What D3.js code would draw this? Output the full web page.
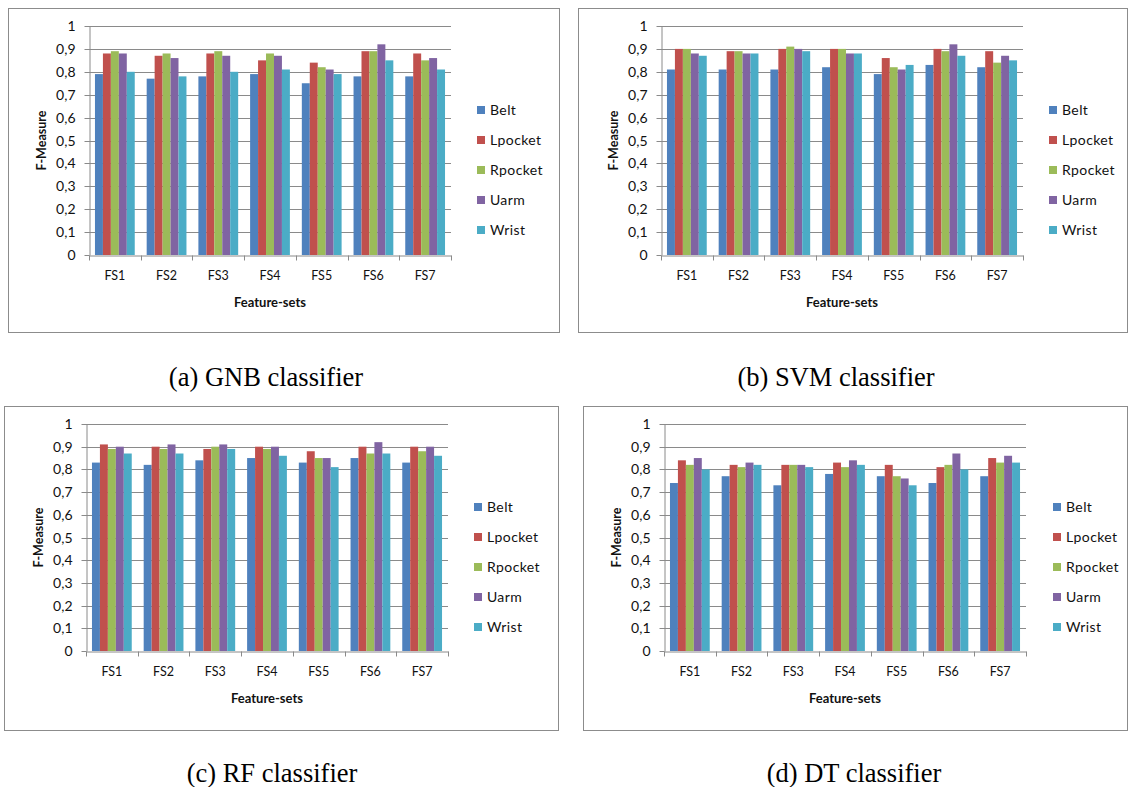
<!DOCTYPE html>
<html>
<head>
<meta charset="utf-8">
<script src="https://cdn.jsdelivr.net/npm/d3@7"></script>
<style>
  html, body { margin: 0; padding: 0; background: #fff; }
  svg { display: block; }
</style>
</head>
<body>
<svg id="chart" width="1133" height="787"></svg>
<script>
// ---------------- DATA ----------------
const categories = ["FS1", "FS2", "FS3", "FS4", "FS5", "FS6", "FS7"];
const seriesNames = ["Belt", "Lpocket", "Rpocket", "Uarm", "Wrist"];
const yTickValues = [0, 0.1, 0.2, 0.3, 0.4, 0.5, 0.6, 0.7, 0.8, 0.9, 1];
const yTickLabels = ["0", "0,1", "0,2", "0,3", "0,4", "0,5", "0,6", "0,7", "0,8", "0,9", "1"];

// rows = series (Belt, Lpocket, Rpocket, Uarm, Wrist); columns = FS1..FS7
const gnbValues = [
  [0.79, 0.77, 0.78, 0.79, 0.75, 0.78, 0.78],
  [0.88, 0.87, 0.88, 0.85, 0.84, 0.89, 0.88],
  [0.89, 0.88, 0.89, 0.88, 0.82, 0.89, 0.85],
  [0.88, 0.86, 0.87, 0.87, 0.81, 0.92, 0.86],
  [0.80, 0.78, 0.80, 0.81, 0.79, 0.85, 0.81]
];
const svmValues = [
  [0.81, 0.81, 0.81, 0.82, 0.79, 0.83, 0.82],
  [0.90, 0.89, 0.90, 0.90, 0.86, 0.90, 0.89],
  [0.90, 0.89, 0.91, 0.90, 0.82, 0.89, 0.84],
  [0.88, 0.88, 0.90, 0.88, 0.81, 0.92, 0.87],
  [0.87, 0.88, 0.89, 0.88, 0.83, 0.87, 0.85]
];
const rfValues = [
  [0.83, 0.82, 0.84, 0.85, 0.83, 0.85, 0.83],
  [0.91, 0.90, 0.89, 0.90, 0.88, 0.90, 0.90],
  [0.89, 0.89, 0.90, 0.89, 0.85, 0.87, 0.88],
  [0.90, 0.91, 0.91, 0.90, 0.85, 0.92, 0.90],
  [0.87, 0.87, 0.89, 0.86, 0.81, 0.87, 0.86]
];
const dtValues = [
  [0.74, 0.77, 0.73, 0.78, 0.77, 0.74, 0.77],
  [0.84, 0.82, 0.82, 0.83, 0.82, 0.81, 0.85],
  [0.82, 0.81, 0.82, 0.81, 0.77, 0.82, 0.83],
  [0.85, 0.83, 0.82, 0.84, 0.76, 0.87, 0.86],
  [0.80, 0.82, 0.81, 0.82, 0.73, 0.80, 0.83]
];
const captions = ["(a) GNB classifier", "(b) SVM classifier", "(c) RF classifier", "(d) DT classifier"];
const yAxisTitle = "F-Measure";
const xAxisTitle = "Feature-sets";

// ---------------- STYLE / LAYOUT ----------------
const seriesColors = ["#4F81BD", "#C0504D", "#9BBB59", "#8064A2", "#4BACC6"];
const panels = [
  { values: gnbValues, frame: [8, 8, 559, 332],    plot: [89, 451, 255, 26],   legend: [477, 110], capX: 266, capY: 386 },
  { values: svmValues, frame: [578, 8, 1127, 332], plot: [661, 1023, 255, 26], legend: [1049, 110], capX: 836, capY: 386 },
  { values: rfValues,  frame: [4, 406, 558, 730],  plot: [86, 448, 651, 424],  legend: [474, 507], capX: 272, capY: 782 },
  { values: dtValues,  frame: [583, 406, 1127, 730], plot: [664, 1026, 651, 424], legend: [1053, 507], capX: 854, capY: 782 }
];

const svg = d3.select("#chart");
svg.append("rect").attr("width", 1133).attr("height", 787).attr("fill", "#fff");

const labelFont = "Lato, 'Open Sans', 'DejaVu Sans', sans-serif";
const gridColor = "#8a8a8a";

panels.forEach((p, pi) => {
  const g = svg.append("g");
  const [fx0, fy0, fx1, fy1] = p.frame;
  const [x0, x1, y0, y1] = p.plot;

  // frame
  g.append("rect")
    .attr("x", fx0 + 0.5).attr("y", fy0 + 0.5)
    .attr("width", fx1 - fx0).attr("height", fy1 - fy0)
    .attr("fill", "#fff").attr("stroke", "#8c8c8c").attr("stroke-width", 1);

  const x = d3.scaleBand().domain(categories).range([x0, x1])
    .paddingInner(1.5 / 6.5).paddingOuter(0.75 / 6.5);
  const xs = d3.scaleBand().domain(seriesNames).range([0, x.bandwidth()]);
  const y = d3.scaleLinear().domain([0, 1]).range([y0, y1]);

  // gridlines
  g.append("g").selectAll("line")
    .data(yTickValues.filter(v => v > 0))
    .join("line")
    .attr("x1", x0).attr("x2", x1)
    .attr("y1", d => Math.round(y(d)) + 0.5).attr("y2", d => Math.round(y(d)) + 0.5)
    .attr("stroke", gridColor).attr("stroke-width", 1);

  // bars
  const groups = g.append("g").selectAll("g")
    .data(categories)
    .join("g")
    .attr("transform", c => `translate(${x(c)},0)`);
  groups.selectAll("rect")
    .data((c, ci) => seriesNames.map((s, si) => ({ s, si, v: p.values[si][ci] })))
    .join("rect")
    .attr("x", d => xs(d.s))
    .attr("width", xs.bandwidth())
    .attr("y", d => y(d.v))
    .attr("height", d => y(0) - y(d.v))
    .attr("fill", d => seriesColors[d.si]);

  // y axis
  const yAxis = d3.axisLeft(y)
    .tickValues(yTickValues)
    .tickFormat((d, i) => yTickLabels[i])
    .tickSizeInner(5).tickSizeOuter(0).tickPadding(9);
  const ya = g.append("g")
    .attr("transform", `translate(${x0 + 0.5},0)`)
    .call(yAxis);
  ya.select(".domain").attr("stroke", gridColor);
  ya.selectAll(".tick line").attr("stroke", gridColor);
  ya.selectAll(".tick text")
    .attr("font-family", labelFont).attr("font-size", 14).attr("fill", "#111");
  ya.selectAll(".tick").attr("transform", d => `translate(0,${Math.round(y(d)) + 0.5})`);

  // x axis
  const xAxis = d3.axisBottom(x).tickSize(0).tickPadding(16);
  const xa = g.append("g")
    .attr("transform", `translate(0,${Math.round(y0) + 0.5})`)
    .call(xAxis);
  xa.select(".domain").attr("stroke", gridColor);
  xa.selectAll(".tick text")
    .attr("font-family", labelFont).attr("font-size", 12.5).attr("fill", "#111");
  // category boundary tick marks
  xa.append("g").selectAll("line")
    .data(d3.range(categories.length + 1))
    .join("line")
    .attr("x1", i => Math.round(x0 + i * x.step()) + 0.5)
    .attr("x2", i => Math.round(x0 + i * x.step()) + 0.5)
    .attr("y1", 0).attr("y2", 5)
    .attr("stroke", gridColor);

  // axis titles
  g.append("text")
    .attr("x", (x0 + x1) / 2).attr("y", y0 + 52)
    .attr("text-anchor", "middle")
    .attr("font-family", labelFont).attr("font-weight", "bold").attr("font-size", 13)
    .attr("fill", "#111")
    .text(xAxisTitle);
  g.append("text")
    .attr("transform", `translate(${x0 - 43},${(y0 + y1) / 2}) rotate(-90)`)
    .attr("text-anchor", "middle")
    .attr("font-family", labelFont).attr("font-weight", "bold").attr("font-size", 12.5)
    .attr("fill", "#111")
    .text(yAxisTitle);

  // legend
  const [lx, ly] = p.legend;
  const lg = g.append("g").selectAll("g")
    .data(seriesNames)
    .join("g")
    .attr("transform", (s, i) => `translate(${lx},${ly + i * 30})`);
  lg.append("rect")
    .attr("x", 0).attr("y", -4).attr("width", 8).attr("height", 8)
    .attr("fill", (s, i) => seriesColors[i]);
  lg.append("text")
    .attr("x", 13).attr("y", 0).attr("dy", "0.36em")
    .attr("font-family", labelFont).attr("font-size", 14).attr("fill", "#111")
    .attr("letter-spacing", 0.4)
    .text(s => s);

  // caption
  svg.append("text")
    .attr("x", p.capX).attr("y", p.capY)
    .attr("text-anchor", "middle")
    .attr("font-family", "'Liberation Serif', 'DejaVu Serif', serif")
    .attr("font-size", 26.5).attr("fill", "#000")
    .text(captions[pi]);
});
</script>
</body>
</html>
